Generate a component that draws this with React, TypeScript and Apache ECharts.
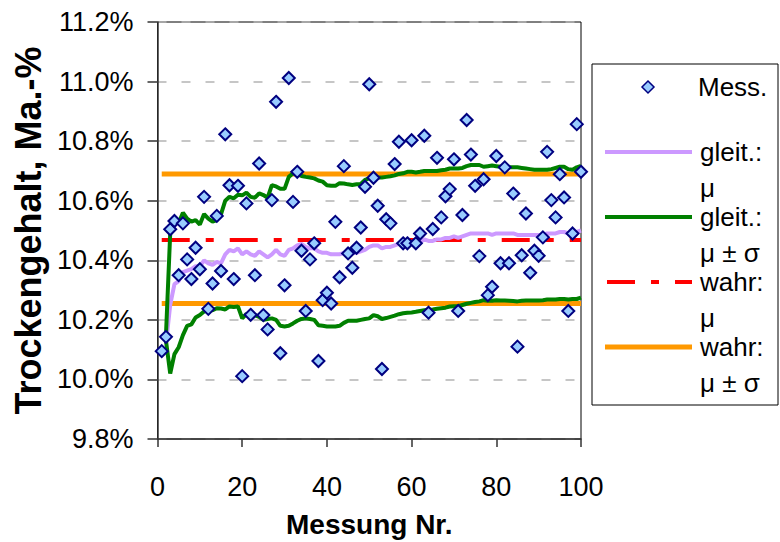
import React, { useEffect, useRef } from "react";
import * as echarts from "echarts";

// Messwerte (Trockengehalt in %), Messung Nr. 1..100
const messwerte = [
  10.095, 10.143, 10.504, 10.532, 10.35, 10.524, 10.403, 10.337, 10.442, 10.37,
  10.613, 10.237, 10.322, 10.549, 10.364, 10.823, 10.652, 10.337, 10.65, 10.011,
  10.591, 10.217, 10.35, 10.725, 10.216, 10.168, 10.602, 10.932, 10.088, 10.316,
  11.012, 10.596, 10.697, 10.432, 10.23, 10.403, 10.457, 10.062, 10.266, 10.291,
  10.255, 10.529, 10.343, 10.716, 10.423, 10.375, 10.442, 10.51, 10.647, 10.991,
  10.677, 10.583, 10.035, 10.538, 10.524, 10.723, 10.798, 10.457, 10.457, 10.803,
  10.457, 10.49, 10.818, 10.224, 10.505, 10.744, 10.544, 10.615, 10.639, 10.739,
  10.23, 10.552, 10.871, 10.755, 10.65, 10.414, 10.672, 10.283, 10.311, 10.75,
  10.39, 10.712, 10.39, 10.624, 10.11, 10.417, 10.557, 10.358, 10.432, 10.415,
  10.477, 10.764, 10.602, 10.544, 10.689, 10.611, 10.23, 10.49, 10.857, 10.697,
];

// gleitende Werte, ab Messung Nr. 2
const gleitMu = [
  10.12, 10.25, 10.32, 10.33, 10.36, 10.365, 10.37, 10.38, 10.38,
  10.40, 10.39, 10.385, 10.395, 10.39, 10.42, 10.435, 10.43, 10.44, 10.42,
  10.43, 10.42, 10.415, 10.43, 10.42, 10.41, 10.42, 10.435, 10.42, 10.415,
  10.435, 10.44, 10.45, 10.455, 10.445, 10.44, 10.44, 10.43, 10.425, 10.425,
  10.42, 10.42, 10.42, 10.425, 10.425, 10.425, 10.425, 10.43, 10.435, 10.445,
  10.45, 10.45, 10.44, 10.445, 10.445, 10.45, 10.455, 10.455, 10.455, 10.46,
  10.46, 10.46, 10.47, 10.465, 10.465, 10.47, 10.47, 10.475, 10.475, 10.48,
  10.475, 10.48, 10.485, 10.49, 10.49, 10.49, 10.49, 10.49, 10.485, 10.49,
  10.49, 10.49, 10.49, 10.49, 10.485, 10.485, 10.485, 10.485, 10.485, 10.485,
  10.485, 10.49, 10.49, 10.49, 10.495, 10.495, 10.49, 10.49, 10.495, 10.5,
];

const gleitPlus = [
  10.15, 10.49, 10.545, 10.525, 10.56, 10.54, 10.53, 10.535, 10.52,
  10.555, 10.54, 10.53, 10.535, 10.555, 10.6, 10.613, 10.608, 10.62, 10.618,
  10.627, 10.613, 10.61, 10.625, 10.619, 10.61, 10.652, 10.648, 10.64, 10.64,
  10.68, 10.692, 10.69, 10.683, 10.68, 10.678, 10.675, 10.668, 10.664, 10.652,
  10.65, 10.65, 10.659, 10.658, 10.655, 10.653, 10.655, 10.656, 10.67, 10.675,
  10.677, 10.678, 10.678, 10.68, 10.682, 10.685, 10.69, 10.692, 10.697, 10.697,
  10.695, 10.697, 10.7, 10.7, 10.7, 10.7, 10.702, 10.704, 10.708, 10.708,
  10.708, 10.71, 10.716, 10.72, 10.72, 10.72, 10.714, 10.716, 10.718, 10.716,
  10.714, 10.714, 10.712, 10.712, 10.712, 10.71, 10.708, 10.706, 10.704, 10.704,
  10.704, 10.704, 10.706, 10.71, 10.714, 10.714, 10.706, 10.704, 10.712, 10.717,
];

const gleitMinus = [
  10.13, 10.02, 10.085, 10.108, 10.149, 10.18, 10.185, 10.208, 10.216,
  10.228, 10.233, 10.232, 10.239, 10.238, 10.235, 10.245, 10.243, 10.245, 10.205,
  10.22, 10.212, 10.216, 10.21, 10.2, 10.203, 10.205, 10.2, 10.18, 10.178,
  10.18, 10.188, 10.197, 10.203, 10.205, 10.203, 10.2, 10.182, 10.18, 10.178,
  10.178, 10.178, 10.18, 10.19, 10.197, 10.197, 10.197, 10.2, 10.203, 10.205,
  10.216, 10.212, 10.203, 10.206, 10.21, 10.214, 10.219, 10.222, 10.224, 10.225,
  10.227, 10.23, 10.232, 10.234, 10.235, 10.237, 10.239, 10.241, 10.245, 10.246,
  10.246, 10.25, 10.254, 10.257, 10.26, 10.262, 10.266, 10.264, 10.264, 10.266,
  10.265, 10.265, 10.264, 10.263, 10.262, 10.264, 10.265, 10.265, 10.265, 10.265,
  10.266, 10.268, 10.268, 10.268, 10.27, 10.27, 10.268, 10.27, 10.27, 10.275,
];

// wahre Werte
const wahrMu = 10.468;
const wahrPlus = 10.69;
const wahrMinus = 10.255;
const xRange = [1, 100];

const FONT = "Arial, 'Liberation Sans', sans-serif";

const legendTexts = [
  { text: "Mess.", x: 698, y: 87 },
  { text: "gleit.:", x: 700, y: 152 },
  { text: "μ", x: 700, y: 188 },
  { text: "gleit.:", x: 700, y: 217 },
  { text: "μ ± σ", x: 700, y: 253 },
  { text: "wahr:", x: 700, y: 282 },
  { text: "μ", x: 700, y: 318 },
  { text: "wahr:", x: 700, y: 347 },
  { text: "μ ± σ", x: 700, y: 383 },
];

export default function App() {
  const ref = useRef<HTMLDivElement>(null);
  useEffect(() => {
    if (!ref.current) return;
    const chart = echarts.init(ref.current, undefined, { renderer: "svg" });
    const pts = (arr: number[], start: number) => arr.map((v, i) => [i + start, v]);
    const constLine = (v: number) => xRange.map((x) => [x, v]);

    const option: any = {
      animation: false,
      backgroundColor: "#fff",
      grid: {
        left: 157.5,
        right: 199,
        top: 22,
        bottom: 103,
        containLabel: false,
        outerBoundsMode: "none",
        show: true,
        borderColor: "#000",
        borderWidth: 1,
        backgroundColor: "transparent",
      },
      xAxis: {
        type: "value",
        min: 0,
        max: 100,
        interval: 20,
        axisLine: { show: true, onZero: false, lineStyle: { color: "#333", width: 1.5 } },
        axisTick: { show: true, length: 8, lineStyle: { color: "#333", width: 1.5 } },
        axisLabel: { fontSize: 27, color: "#000", fontFamily: FONT, margin: 34 },
        splitLine: { show: false },
        name: "Messung Nr.",
        nameLocation: "middle",
        nameGap: 71,
        nameTextStyle: { fontSize: 28, fontWeight: "bold", color: "#000", fontFamily: FONT },
      },
      yAxis: {
        type: "value",
        min: 9.8,
        max: 11.2,
        interval: 0.2,
        axisLine: { show: true, lineStyle: { color: "#333", width: 1.5 } },
        axisTick: { show: true, length: 10, lineStyle: { color: "#333", width: 1.5 } },
        axisLabel: {
          fontSize: 27,
          color: "#000",
          fontFamily: FONT,
          margin: 24,
          padding: [5, 0, 0, 0],
          formatter: (v: number) => v.toFixed(1) + "%",
        },
        splitLine: { show: true, lineStyle: { color: "#b4b4b4", width: 1.5, type: [9, 15] } },
        name: "Trockengehalt, Ma.-%",
        nameLocation: "middle",
        nameGap: 108,
        nameTextStyle: { fontSize: 36, fontWeight: "bold", color: "#000", fontFamily: FONT },
      },
      series: [
        {
          name: "wahr: μ ± σ",
          type: "line",
          data: constLine(wahrPlus),
          symbol: "none",
          lineStyle: { color: "#FF9900", width: 5 },
          z: 2,
        },
        {
          name: "wahr: μ ± σ (unten)",
          type: "line",
          data: constLine(wahrMinus),
          symbol: "none",
          lineStyle: { color: "#FF9900", width: 5 },
          z: 2,
        },
        {
          name: "wahr: μ",
          type: "line",
          data: constLine(wahrMu),
          symbol: "none",
          lineStyle: { color: "#FF0000", width: 4, type: [28, 16, 8, 16] },
          z: 3,
        },
        {
          name: "gleit.: μ",
          type: "line",
          data: pts(gleitMu, 2),
          symbol: "none",
          lineStyle: { color: "#CC99FF", width: 4 },
          z: 4,
        },
        {
          name: "gleit.: μ ± σ",
          type: "line",
          data: pts(gleitPlus, 2),
          symbol: "none",
          lineStyle: { color: "#008000", width: 4 },
          z: 5,
        },
        {
          name: "gleit.: μ ± σ (unten)",
          type: "line",
          data: pts(gleitMinus, 2),
          symbol: "none",
          lineStyle: { color: "#008000", width: 4 },
          z: 5,
        },
        {
          name: "Mess.",
          type: "scatter",
          data: pts(messwerte, 1),
          symbol: "diamond",
          symbolSize: 12,
          itemStyle: { color: "#99CCFF", borderColor: "#000080", borderWidth: 2, opacity: 1 },
          z: 10,
        },
      ],
      graphic: [
        {
          type: "rect",
          shape: { x: 592, y: 64, width: 186, height: 341 },
          style: { fill: "#fff", stroke: "#000", lineWidth: 1 },
        },
        {
          type: "polygon",
          shape: { points: [[648, 81], [654, 87], [648, 93], [642, 87]] },
          style: { fill: "#99CCFF", stroke: "#000080", lineWidth: 1.5 },
        },
        {
          type: "line",
          shape: { x1: 605, y1: 152, x2: 692, y2: 152 },
          style: { stroke: "#CC99FF", lineWidth: 4 },
        },
        {
          type: "line",
          shape: { x1: 605, y1: 217, x2: 692, y2: 217 },
          style: { stroke: "#008000", lineWidth: 4 },
        },
        {
          type: "line",
          shape: { x1: 607, y1: 282, x2: 692, y2: 282 },
          style: { stroke: "#FF0000", lineWidth: 4, lineDash: [28, 16, 8, 16] },
        },
        {
          type: "line",
          shape: { x1: 605, y1: 347, x2: 692, y2: 347 },
          style: { stroke: "#FF9900", lineWidth: 5 },
        },
        ...legendTexts.map((t) => ({
          type: "text",
          x: t.x,
          y: t.y,
          style: {
            text: t.text,
            fill: "#000",
            fontSize: 26,
            lineHeight: 26,
            fontFamily: FONT,
            align: "left",
            verticalAlign: "middle",
          },
        })),
      ],
    };
    chart.setOption(option);
    return () => chart.dispose();
  }, []);
  return (
    <div
      ref={ref}
      style={{ position: "absolute", left: 0, top: 0, width: 780, height: 542, background: "#fff" }}
    />
  );
}
